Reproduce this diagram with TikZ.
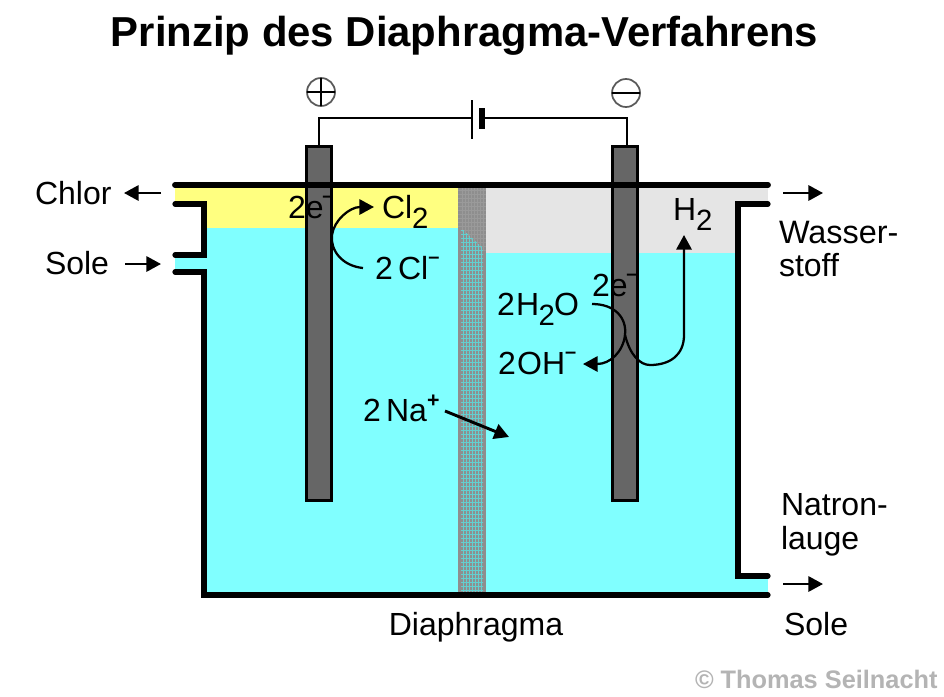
\documentclass[tikz,border=0pt]{standalone}
\usepackage{fontspec}
\setmainfont{Liberation Sans}
\usetikzlibrary{arrows.meta}
\definecolor{brine}{HTML}{80FFFF}
\definecolor{chlorine}{HTML}{FFFF80}
\definecolor{hydrogen}{HTML}{E5E5E5}
\definecolor{membrane}{HTML}{8E8E8E}
\definecolor{meshc}{HTML}{62CFCF}
\definecolor{meshg}{HTML}{9A9A9A}
\definecolor{rod}{HTML}{666666}
\definecolor{credit}{HTML}{B4B4B4}
\newcommand{\lowidx}[1]{\raisebox{-0.34em}{\fontsize{22pt}{22pt}\selectfont #1}}
\newcommand{\highidx}[1]{\raisebox{0.5em}{\fontsize{15pt}{15pt}\selectfont\bfseries #1}}
\tikzset{
  lbl/.style={anchor=base west,inner sep=0pt,outer sep=0pt,font=\fontsize{24pt}{24pt}\selectfont,text=black},
  electrode/.style={draw=black,line width=2pt,fill=rod,minimum width=18.5pt,minimum height=265.5pt,inner sep=0pt,outer sep=0pt},
  wall/.style={draw=black,line width=4.4pt,line cap=round,line join=miter},
  wallthin/.style={draw=black,line width=3.9pt,line cap=round,line join=miter},
  wire/.style={draw=black,line width=1.5pt},
  flow/.style={draw=black,line width=1.7pt,-{Triangle[length=11pt,width=11.5pt]}},
  pole/.style={circle,draw=black!65,line width=1.3pt,minimum size=21pt,inner sep=0pt,outer sep=0pt}
}
\begin{document}
\begin{tikzpicture}[x=0.75pt,y=-0.75pt]
\useasboundingbox (0,0) rectangle (944,696);
\fill[white] (0,0) rectangle (944,696);
% liquid and gas
\fill[brine] (175,228) rectangle (458,272);
\fill[brine] (204,228) rectangle (738,595);
\fill[brine] (738,576) rectangle (768,595);
\fill[chlorine] (175,185) rectangle (458,228);
\fill[hydrogen] (486,185) rectangle (768,204);
\fill[hydrogen] (486,185) rectangle (738,253);
\fill[white] (170,204) rectangle (204,255);
% diaphragm
\fill[membrane] (458,187) rectangle (486,592);
\begin{scope}
\clip (458,187) -- (486,187) -- (486,253) -- (458,228) -- cycle;
\foreach \i in {462,465,...,483} \draw[meshg,line width=0.5pt] (\i,187) -- (\i,260);
\foreach \i in {190,194,...,256} \draw[meshg,line width=0.5pt] (458,\i) -- (486,\i);
\end{scope}
\begin{scope}
\clip (461,228) -- (483,248) -- (483,592) -- (461,592) -- cycle;
\foreach \i in {463,466,...,481} \draw[meshc,line width=0.75pt] (\i,226) -- (\i,592);
\foreach \i in {230,234,...,590} \draw[meshc,line width=0.7pt] (458,\i) -- (486,\i);
\end{scope}
% electrodes
\node[electrode] (anode) at (319,323.5) {};
\node[electrode] (cathode) at (625,323.5) {};
% vessel
\draw[wall] (175,185) -- (768,185);
\draw[wallthin] (175,204) -- (204,204) -- (204,255) -- (175,255);
\draw[wallthin] (175,272) -- (204,272) -- (204,595) -- (768,595);
\draw[wallthin] (768,204) -- (738,204) -- (738,576) -- (768,576);
% battery
\coordinate (longplate) at (472,118);
\coordinate (shortplate) at (482,118);
\draw[black,line width=1.5pt] (472,100) -- (472,139);
\draw[black,line width=4.6pt] (482,108) -- (482,129);
\draw[wire] (anode.north) |- (longplate);
\draw[wire] ([xshift=1.5pt]cathode.north) |- (shortplate);
% poles
\node[pole] (plus) at (321,92) {};
\draw[black,line width=1.3pt] (plus.west) -- (plus.east) (plus.north) -- (plus.south);
\node[pole] (minus) at (626,93) {};
\draw[black,line width=1.3pt] (minus.west) -- (minus.east);
% title and labels
\node[anchor=base,inner sep=0pt,font=\fontsize{31.4pt}{31.4pt}\selectfont\bfseries] (title) at (464.5,46) {Prinzip des Diaphragma-Verfahrens};
\node[lbl] (chlor) at (35,204) {Chlor};
\node[lbl] (soleL) at (45,274) {Sole};
\node[lbl,font=\fontsize{24.3pt}{24.3pt}\selectfont] (wasser) at (779,243) {Wasser-};
\node[lbl] (stoff) at (779,276) {stoff};
\node[lbl] (natron) at (781,515) {Natron-};
\node[lbl] (lauge) at (781,549) {lauge};
\node[lbl] (soleR) at (784,635) {Sole};
\node[lbl,anchor=base] (diaph) at (476,635) {Diaphragma};
\node[lbl,font=\fontsize{19pt}{19pt}\selectfont\bfseries,text=credit] (copy) at (695,688) {© Thomas Seilnacht};
\node[lbl] (eL) at (288,218) {2e\kern-1pt\highidx{–}};
\node[lbl] (cltwo) at (382,218) {Cl\lowidx{2}};
\node[lbl] (clion) at (375,279) {2\,Cl\highidx{–}};
\node[lbl] (htwo) at (673,220) {H\lowidx{2}};
\node[lbl] (eR) at (592,296) {2e\kern-1pt\highidx{–}};
\node[lbl] (water) at (497,315) {2\kern1pt H\kern-0.5pt\lowidx{2}\kern-0.5pt O};
\node[lbl] (oh) at (498,374) {2\kern1pt OH\highidx{–}};
\node[lbl] (na) at (363,421) {2\,Na\raisebox{0.42em}{\fontsize{16pt}{16pt}\selectfont\bfseries +}};
% free arrow ends
\coordinate (chlorA) at (161,193);
\coordinate (chlorB) at (124,193);
\coordinate (soleA) at (125,264);
\coordinate (soleB) at (161,264);
\coordinate (hOutA) at (783,193);
\coordinate (hOutB) at (823,193);
\coordinate (nOutA) at (783,584);
\coordinate (nOutB) at (823,584);
\coordinate (naA) at (445,411);
\coordinate (naB) at (509,437);
\coordinate (clA) at (363,268);
\coordinate (clB) at (374,207);
\coordinate (wA) at (592,304);
\coordinate (wB) at (583,364);
\coordinate (hA) at (625,335);
\coordinate (hB) at (684,235);
\draw[flow] (chlorA) -- (chlorB);
\draw[flow] (soleA) -- (soleB);
\draw[flow] (hOutA) -- (hOutB);
\draw[flow] (nOutA) -- (nOutB);
\draw[flow,line width=2.2pt] (naA) -- (naB);
\draw[flow] (clA) .. controls (342,266) and (330,250) .. (332,235) .. controls (334,220) and (350,207) .. (clB);
\draw[flow] (wA) .. controls (615,304) and (627,318) .. (625,335) .. controls (623,352) and (610,364) .. (wB);
\draw[flow] (hA) .. controls (630,355) and (640,365) .. (650,365) .. controls (670,365) and (684,355) .. (684,335) -- (hB);
\end{tikzpicture}
\end{document}
